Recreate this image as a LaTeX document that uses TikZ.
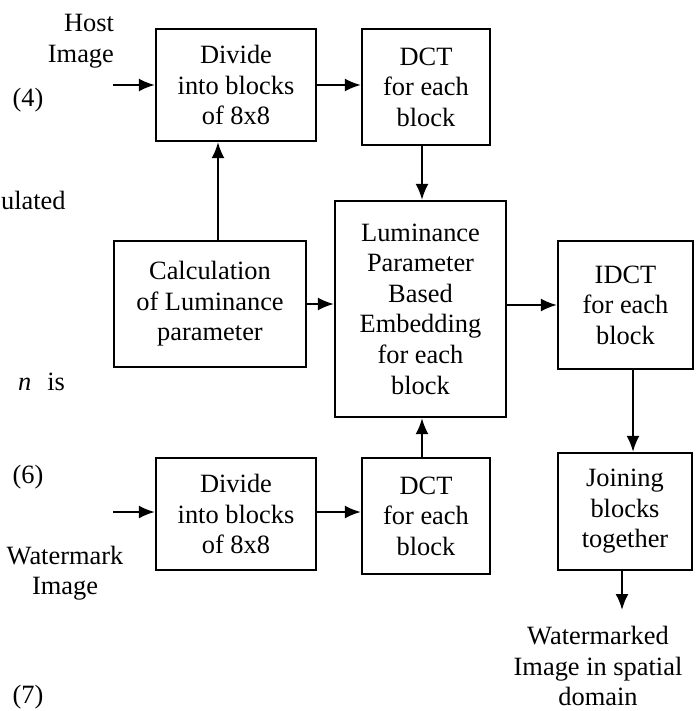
\documentclass[tikz,border=0pt]{standalone}
\usepackage{fontspec}
\setmainfont{Liberation Serif}
\usetikzlibrary{arrows.meta}
\begin{document}
\begin{tikzpicture}[x=0.5pt,y=-0.5pt,line width=1.1pt,>={Latex[length=8pt,width=6.5pt]},
  font=\fontsize{13.2}{15.3}\selectfont,
  blk/.style={draw,rectangle,align=center,inner sep=0pt},
  lbl/.style={align=center,inner sep=0pt}]
  \useasboundingbox (0,0) rectangle (696,711);
% Host image branch
  \node[blk,minimum width=80pt,minimum height=56pt] (div1) at (236,85) {Divide\\into blocks\\of 8x8};
  \node[blk,minimum width=64pt,minimum height=58pt] (dct1) at (426,87) {DCT\\for each\\block};
  \node[blk,minimum width=96pt,minimum height=63pt] (calc) at (210,304) {Calculation\\of Luminance\\parameter};
  \node[blk,minimum width=85.5pt,minimum height=108pt] (lum) at (420.5,309) {Luminance\\Parameter\\Based\\Embedding\\for each\\block};
  \node[blk,minimum width=67.5pt,minimum height=64pt] (idct) at (625.5,305) {IDCT\\for each\\block};
% Watermark image branch
  \node[blk,minimum width=80pt,minimum height=56pt] (div2) at (236,514) {Divide\\into blocks\\of 8x8};
  \node[blk,minimum width=64pt,minimum height=58pt] (dct2) at (426,516) {DCT\\for each\\block};
  \node[blk,minimum width=67pt,minimum height=58.5pt] (join) at (625,511.5) {Joining\\blocks\\together};
% Labels
  \node[lbl,align=right,anchor=east] (host) at (115,41) {Host\\Image};
  \node[lbl] (wm) at (65,573) {Watermark\\Image};
  \node[lbl] (out) at (598,666) {Watermarked\\Image in spatial\\domain};
  \node[lbl] (eq4) at (28,100) {(4)};
  \node[lbl] (eq6) at (28,477) {(6)};
  \node[lbl] (eq7) at (28,697) {(7)};
  \node[lbl,anchor=west] (t1) at (0,200) {ulated};
  \node[lbl,anchor=west] (t2) at (17,382) {\textit{n}\hspace{8pt}is};
% Connectors
  \coordinate (hin) at (113,85);
  \coordinate (win) at (113,512);
  \coordinate (wout) at (622,610);
  \coordinate (cx) at (218,0);
  \coordinate (dx) at (422,0);
  \coordinate (ix) at (633,0);
  \draw[->] (hin) -- (hin -| div1.west);
  \draw[->] (div1.east |- hin) -- (dct1.west |- hin);
  \draw[->] (calc.north -| cx) -- (div1.south -| cx);
  \draw[->] (dct1.south -| dx) -- (lum.north -| dx);
  \draw[->] (calc.east) -- (calc.east -| lum.west);
  \draw[->] (lum.east |- idct) -- (idct.west);
  \draw[->] (idct.south -| ix) -- (join.north -| ix);
  \draw[->] (win) -- (win -| div2.west);
  \draw[->] (div2.east |- win) -- (dct2.west |- win);
  \draw[->] (dct2.north -| dx) -- (lum.south -| dx);
  \draw[->] (join.south -| wout) -- (wout);
\end{tikzpicture}
\end{document}
